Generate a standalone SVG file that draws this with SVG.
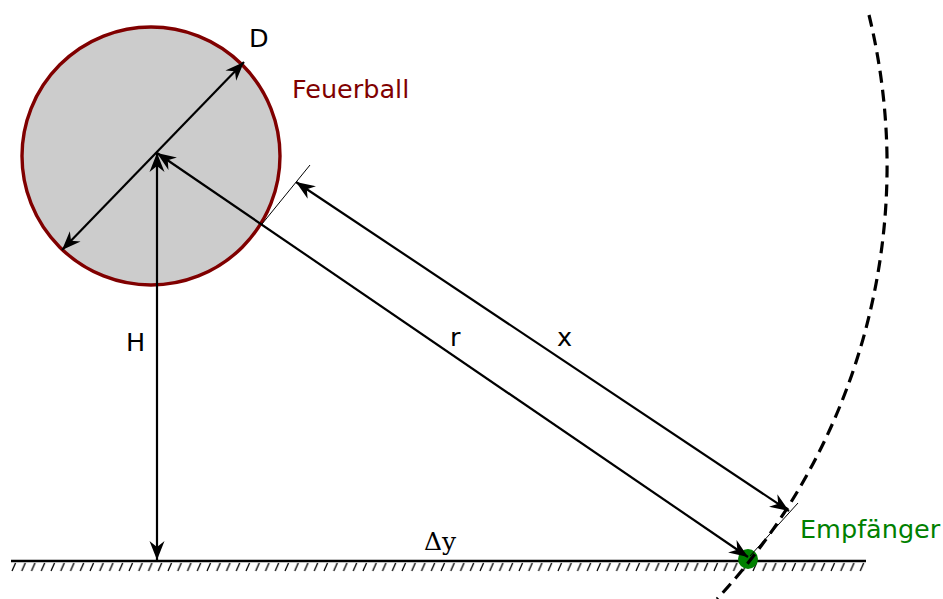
<svg xmlns="http://www.w3.org/2000/svg" width="943" height="599" viewBox="0 0 943 599">
  <style>
    .lbl { font-family: "DejaVu Sans", Verdana, sans-serif; font-size: 25.5px; fill: #000; }
    .arr { stroke: #000; stroke-width: 2.2; fill: none; marker-start: url(#ah); marker-end: url(#ah); }
    .thin { stroke: #000; stroke-width: 1; fill: none; }
    .hatch { stroke: #000; stroke-width: 1.3; }
  </style>
  <defs>
    <marker id="ah" viewBox="-19 -8 21 16" markerWidth="21" markerHeight="16" refX="0" refY="0" orient="auto-start-reverse" markerUnits="userSpaceOnUse">
      <path d="M0,0 L-19,-7.5 L-13,0 L-19,7.5 Z" fill="#000"/>
    </marker>
    <pattern id="hatch" x="11" y="562" width="9.75" height="11" patternUnits="userSpaceOnUse">
      <line x1="1" y1="9" x2="4.5" y2="1" class="hatch"/>
    </pattern>
  </defs>

  <g id="ground">
    <rect x="11" y="562" width="855" height="10" fill="url(#hatch)"/>
    <line x1="11" y1="561" x2="866" y2="561" stroke="#000" stroke-width="2.6"/>
  </g>

  <g id="fireball">
    <circle cx="151" cy="156" r="129" fill="#cccccc" stroke="#800000" stroke-width="3.4"/>
    <text x="292" y="98" class="lbl" style="fill:#800000">Feuerball</text>
  </g>

  <g id="receiver">
    <circle cx="748" cy="559" r="10" fill="#008000"/>
    <text x="800" y="538" class="lbl" style="fill:#008000">Empfänger</text>
  </g>

  <g id="horizon">
    <path d="M869 15 A637 637 0 0 1 717 599" fill="none" stroke="#000" stroke-width="3.2" stroke-dasharray="12 7"/>
  </g>

  <g id="connectors">
    <line x1="62" y1="250" x2="244" y2="62" class="arr"/>
    <line x1="157" y1="153" x2="157" y2="560" class="arr"/>
    <line x1="157" y1="153" x2="748" y2="557" class="arr"/>
    <line x1="296" y1="182" x2="789" y2="511" class="arr"/>
    <line x1="262" y1="224" x2="310" y2="165" class="thin"/>
    <line x1="750" y1="556" x2="798" y2="503" class="thin"/>
  </g>

  <g id="labels">
    <text x="249" y="47" class="lbl">D</text>
    <text x="126" y="351" class="lbl">H</text>
    <text x="450" y="346" class="lbl">r</text>
    <text x="557" y="346" class="lbl">x</text>
    <text x="424" y="550" style="font-family:'DejaVu Serif', serif; font-size:25px;">Δy</text>
  </g>
</svg>
